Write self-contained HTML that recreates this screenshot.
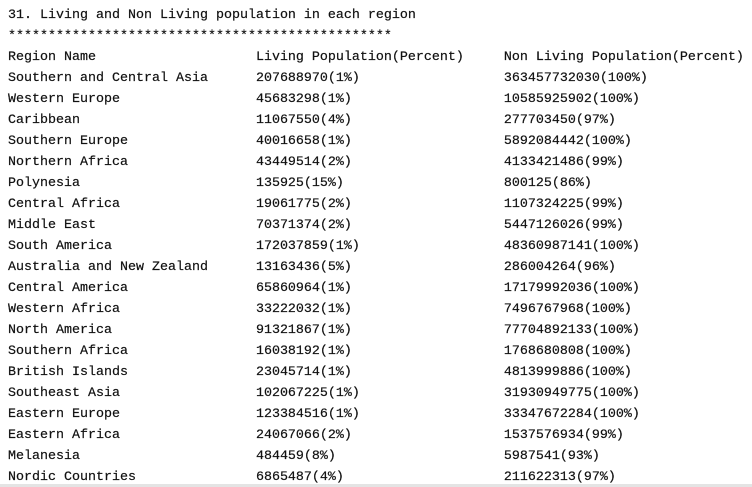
<!DOCTYPE html>
<html><head><meta charset="utf-8"><style>
html,body{margin:0;padding:0;background:#fff;width:752px;height:487px;overflow:hidden}
pre{margin:0;padding:5px 0 0 8px;font-family:"Liberation Mono",monospace;font-size:13.33px;line-height:21px;color:#111;-webkit-text-stroke:0.2px #111}
.bar{position:absolute;left:0;top:484px;width:752px;height:3px;background:#e4e4e4}
</style></head><body>
<pre>31. Living and Non Living population in each region
************************************************
Region Name                    Living Population(Percent)     Non Living Population(Percent)
Southern and Central Asia      207688970(1%)                  363457732030(100%)
Western Europe                 45683298(1%)                   10585925902(100%)
Caribbean                      11067550(4%)                   277703450(97%)
Southern Europe                40016658(1%)                   5892084442(100%)
Northern Africa                43449514(2%)                   4133421486(99%)
Polynesia                      135925(15%)                    800125(86%)
Central Africa                 19061775(2%)                   1107324225(99%)
Middle East                    70371374(2%)                   5447126026(99%)
South America                  172037859(1%)                  48360987141(100%)
Australia and New Zealand      13163436(5%)                   286004264(96%)
Central America                65860964(1%)                   17179992036(100%)
Western Africa                 33222032(1%)                   7496767968(100%)
North America                  91321867(1%)                   77704892133(100%)
Southern Africa                16038192(1%)                   1768680808(100%)
British Islands                23045714(1%)                   4813999886(100%)
Southeast Asia                 102067225(1%)                  31930949775(100%)
Eastern Europe                 123384516(1%)                  33347672284(100%)
Eastern Africa                 24067066(2%)                   1537576934(99%)
Melanesia                      484459(8%)                     5987541(93%)
Nordic Countries               6865487(4%)                    211622313(97%)</pre>
<div class="bar"></div>
</body></html>
